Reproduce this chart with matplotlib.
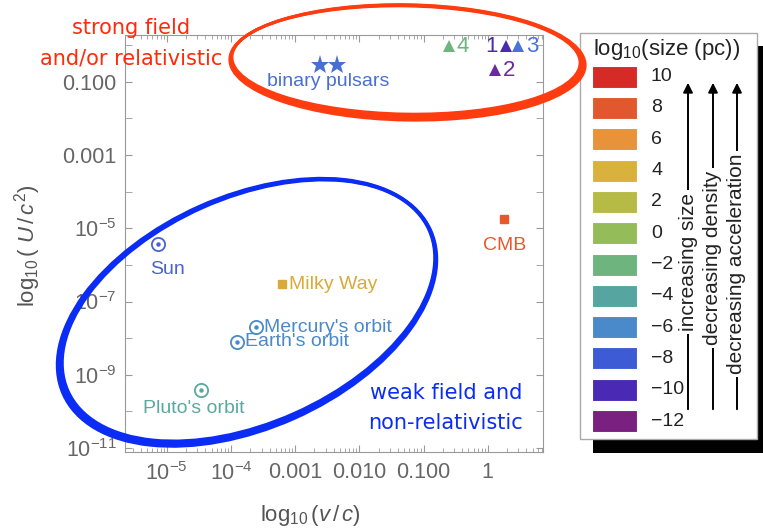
import matplotlib
matplotlib.use('Agg')
import matplotlib.pyplot as plt
from matplotlib import transforms
from matplotlib.patches import Ellipse, Rectangle, FancyArrowPatch
from matplotlib.ticker import FixedLocator, LogLocator, NullFormatter

plt.rcParams['font.family'] = ['Liberation Sans', 'DejaVu Sans']
plt.rcParams['mathtext.fontset'] = 'custom'
plt.rcParams['mathtext.rm'] = 'Liberation Sans'
plt.rcParams['mathtext.it'] = 'Liberation Sans:italic'
plt.rcParams['mathtext.sf'] = 'Liberation Sans'

# objects drawn with the "sun" symbol (circle with dot)
orb_names = ["Sun", "Mercury's orbit", "Earth's orbit", "Pluto's orbit"]
orb_v = [7.2e-6, 2.45e-4, 1.23e-4, 3.4e-5]
orb_U = [3.7e-6, 2.0e-8, 7.9e-9, 3.8e-10]
orb_col = ['#4a62d0', '#4a8ac8', '#4a8ac8', '#5aa8a0']

# square markers
sq_names = ["Milky Way", "CMB"]
sq_v = [6.2e-4, 1.82]
sq_U = [3.0e-7, 1.8e-5]
sq_col = ['#d9aa3a', '#e8582a']

# binary pulsars (stars)
psr_v = [2.4e-3, 4.5e-3]
psr_U = [0.29, 0.29]
psr_col = '#4a6fd3'

# numbered triangles
tri_names = ["4", "1", "3", "2"]
tri_v = [0.245, 1.9, 2.95, 1.29]
tri_U = [0.93, 0.93, 0.93, 0.21]
tri_col = ['#6db47e', '#4b2aaf', '#4a72d8', '#6a2a9a']

# colour key
key_vals = [10, 8, 6, 4, 2, 0, -2, -4, -6, -8, -10, -12]
key_cols = ['#d62a26', '#e2582e', '#e8923a', '#d9b23e', '#b5bb45', '#94bd5a',
            '#6db47e', '#56a5a0', '#4a8acb', '#3d5bd4', '#4a2ab5', '#7a2081']

xtick_vals = [1e-5, 1e-4, 1e-3, 1e-2, 1e-1, 1]
xtick_labels = ['$10^{-5}$', '$10^{-4}$', '0.001', '0.010', '0.100', '1']
ytick_vals = [1e-11, 1e-9, 1e-7, 1e-5, 1e-3, 1e-1]
ytick_labels = ['$10^{-11}$', '$10^{-9}$', '$10^{-7}$', '$10^{-5}$', '0.001', '0.100']

W, H = 763, 529
fig = plt.figure(figsize=(W / 100, H / 100), dpi=100)
ax = fig.add_axes([125 / W, 1 - 452 / H, 418 / W, 417 / H])
pix = transforms.Affine2D().scale(1 / W, -1 / H).translate(0, 1) + fig.transFigure

ax.set_xscale('log')
ax.set_yscale('log')
ax.set_xlim(10 ** -5.65, 10 ** 0.86)
ax.set_ylim(10 ** -11.11, 10 ** 0.28)

gray = '#999999'
for s in ax.spines.values():
    s.set_color(gray)
ax.xaxis.set_major_locator(FixedLocator(xtick_vals))
ax.set_xticklabels(xtick_labels)
ax.xaxis.set_minor_locator(LogLocator(base=10, subs=range(2, 10)))
ax.xaxis.set_minor_formatter(NullFormatter())
ax.yaxis.set_major_locator(FixedLocator(ytick_vals))
ax.set_yticklabels(ytick_labels)
ax.yaxis.set_minor_locator(FixedLocator([10.0 ** k for k in range(-10, 1, 2)]))
ax.yaxis.set_minor_formatter(NullFormatter())
ax.tick_params(which='both', direction='in', top=True, right=True, color=gray,
               labelcolor='#666666', labelsize=15.5)
ax.tick_params(which='major', length=5)
ax.tick_params(which='minor', length=3)
ax.tick_params(axis='y', which='minor', length=5)
ax.tick_params(axis='x', pad=7)
ax.tick_params(axis='y', pad=6)

fig.text(310, 515, r'log$_{10}\,$($v\,/\,c$)', transform=pix, ha='center', va='center',
         fontsize=16, color='#555555')
fig.text(28, 246, r'log$_{10}\,$( $U\,/\,c^2$)', transform=pix, ha='center', va='center',
         rotation=90, fontsize=16, color='#555555')

# sun-symbol objects
for n, v, u, c in zip(orb_names, orb_v, orb_U, orb_col):
    ax.plot(v, u, 'o', ms=9.5, mfc='none', mec=c, mew=1.3)
    ax.plot(v, u, 'o', ms=2.2, color=c)
offs = {"Sun": (7, -18, 'center'), "Mercury's orbit": (6, 0, 'left'),
        "Earth's orbit": (6, 0, 'left'), "Pluto's orbit": (-5, -13, 'center')}
for n, v, u, c in zip(orb_names, orb_v, orb_U, orb_col):
    dx, dy, ha = offs[n]
    ax.annotate(n, (v, u), xytext=(dx, dy), textcoords='offset points',
                ha=ha, va='center', color=c, fontsize=14)

for n, v, u, c in zip(sq_names, sq_v, sq_U, sq_col):
    ax.plot(v, u, 's', ms=6, color=c)
ax.annotate("Milky Way", (sq_v[0], sq_U[0]), xytext=(5, 0), textcoords='offset points',
            ha='left', va='center', color=sq_col[0], fontsize=14)
ax.annotate("CMB", (sq_v[1], sq_U[1]), xytext=(0, -19), textcoords='offset points',
            ha='center', va='center', color=sq_col[1], fontsize=14)

ax.plot(psr_v, psr_U, '*', ms=14, color=psr_col, mew=0)
ax.annotate("binary pulsars", (3.3e-3, psr_U[0]), xytext=(0, -12), textcoords='offset points',
            ha='center', va='center', color=psr_col, fontsize=14)

tri_off = {"4": (6, 'left'), "1": (-6, 'right'), "3": (6, 'left'), "2": (6, 'left')}
for n, v, u, c in zip(tri_names, tri_v, tri_U, tri_col):
    ax.plot(v, u, '^', ms=8.5, color=c, mew=0)
    dx, ha = tri_off[n]
    ax.annotate(n, (v, u), xytext=(dx, 0), textcoords='offset points',
                ha=ha, va='center', color=c, fontsize=16)

# hand-drawn regions, several thin strokes for a marker-pen look
for k in range(4):
    fig.add_artist(Ellipse((406 + 0.5 * k, 60 + k * 0.8), 348 + k * 2.5, 108 + k * 2.5, angle=1,
                           transform=pix, fill=False, ec='#ff3b10', lw=2.0, zorder=10))
    fig.add_artist(Ellipse((248.5 - 0.5 * k, 310.5 + k * 0.6), 395 + k * 2.5, 225 + k * 2.5,
                           angle=-24, transform=pix, fill=False, ec='#0a2cf5', lw=2.0, zorder=10))

fig.text(131, 28, 'strong field', transform=pix, ha='center', va='center',
         color='#ff2a0a', fontsize=15, family='DejaVu Sans')
fig.text(131, 58, 'and/or relativistic', transform=pix, ha='center', va='center',
         color='#ff2a0a', fontsize=15, family='DejaVu Sans')
fig.text(446, 393, 'weak field and', transform=pix, ha='center', va='center',
         color='#0a2cf5', fontsize=15, family='DejaVu Sans')
fig.text(446, 423, 'non-relativistic', transform=pix, ha='center', va='center',
         color='#0a2cf5', fontsize=15, family='DejaVu Sans')

# colour key box with shadow
fig.add_artist(Rectangle((593, 46), 175, 407, transform=pix, fc='black', ec='none'))
fig.add_artist(Rectangle((580, 33), 177, 406, transform=pix, fc='white', ec='#aaaaaa', lw=1))
fig.text(667, 50, r'log$_{10}$(size (pc))', transform=pix, ha='center', va='center',
         fontsize=16, color='#222222')
for i, (val, c) in enumerate(zip(key_vals, key_cols)):
    yc = 76.7 + i * 31.3
    fig.add_artist(Rectangle((592, yc - 11), 45, 22, transform=pix, fc=c, ec='white', lw=0.8))
    lab = str(val).replace('-', '\u2212')
    fig.text(651, yc, lab, transform=pix, ha='left', va='center', fontsize=14, color='#222222')

arrows = [(688, 'increasing size', 262), (713, 'decreasing density', 258),
          (737, 'decreasing acceleration', 264)]
for xa, txt, yt in arrows:
    fig.add_artist(FancyArrowPatch((xa, 412), (xa, 80), transform=pix, arrowstyle='-|>',
                                   mutation_scale=14, color='black', lw=1.4))
    fig.text(xa, yt, txt, transform=pix, rotation=90, ha='center', va='center',
             fontsize=15, color='#222222',
             bbox=dict(fc='white', ec='none', pad=2))

fig.savefig('out.png', dpi=100)
